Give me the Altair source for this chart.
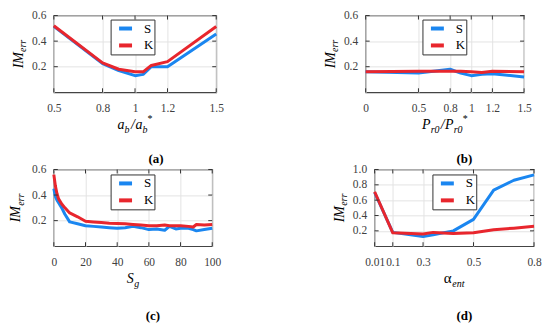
import altair as alt
import pandas as pd

SERIF = "Liberation Serif"
BLUE = "#1a86f0"
RED = "#e8262d"

# ---------------- data ----------------
series_names = ["S", "K"]

a_x = [0.5, 0.8, 0.9, 1.0, 1.05, 1.1, 1.2, 1.5]
a_S = [0.515, 0.225, 0.17, 0.13, 0.14, 0.20, 0.20, 0.455]
a_K = [0.52, 0.23, 0.18, 0.16, 0.16, 0.21, 0.24, 0.515]
a_xticks = [0.5, 0.8, 1, 1.2, 1.5]

b_x = [0, 0.5, 0.8, 0.9, 1.0, 1.1, 1.2, 1.5]
b_S = [0.16, 0.15, 0.18, 0.15, 0.13, 0.14, 0.145, 0.12]
b_K = [0.16, 0.165, 0.165, 0.165, 0.16, 0.155, 0.165, 0.16]
b_xticks = [0, 0.5, 0.8, 1, 1.2, 1.5]

c_x = [0, 1, 2, 3, 5, 7, 10, 15, 20, 25, 30, 35, 40, 45, 50, 55, 60, 65, 70,
       73, 77, 80, 85, 88, 90, 95, 100]
c_S = [0.45, 0.39, 0.36, 0.34, 0.30, 0.25, 0.19, 0.175, 0.16, 0.155, 0.15,
       0.145, 0.14, 0.145, 0.155, 0.145, 0.13, 0.135, 0.125, 0.155, 0.135,
       0.14, 0.14, 0.13, 0.12, 0.13, 0.14]
c_K = [0.56, 0.47, 0.41, 0.37, 0.33, 0.30, 0.26, 0.23, 0.195, 0.19, 0.185,
       0.18, 0.178, 0.175, 0.17, 0.165, 0.16, 0.16, 0.165, 0.16, 0.16, 0.16,
       0.155, 0.15, 0.17, 0.165, 0.17]
c_xticks = [0, 20, 40, 60, 80, 100]

d_x = [0.01, 0.1, 0.25, 0.3, 0.4, 0.5, 0.6, 0.7, 0.8]
d_S = [0.70, 0.18, 0.125, 0.15, 0.20, 0.35, 0.73, 0.86, 0.93]
d_K = [0.71, 0.175, 0.16, 0.18, 0.165, 0.175, 0.215, 0.235, 0.26]
d_xticks = [0.01, 0.1, 0.25, 0.5, 0.8]

y_ticks_small = [0.2, 0.4, 0.6]
y_ticks_d = [0.2, 0.4, 0.6, 0.8, 1.0]

dummy = pd.DataFrame({"k": [0]})


def piece(txt, x, y, size, style="italic", weight="normal", angle=0):
    return alt.Chart(dummy).mark_text(
        text=txt, align="left", baseline="alphabetic", font=SERIF,
        fontSize=size, fontStyle=style, fontWeight=weight, angle=angle,
        color="black",
    ).encode(x=alt.value(x), y=alt.value(y))


def rich(parts, cx, cy, rotate=False):
    total = sum(p[3] for p in parts)
    pos = -total / 2
    out = []
    for txt, size, shift, adv, style in parts:
        if rotate:
            out.append(piece(txt, cx + shift, cy - pos, size, style, angle=270))
        else:
            out.append(piece(txt, cx + pos, cy + shift, size, style))
        pos += adv
    return out


ytitle_parts = [("IM", 14, 0, 16.5, "italic"), ("err", 10, 3.5, 12.5, "italic")]


def panel(xs, S, K, xdom, xticks, ydom, yticks, yfmt, w, h, xtitle_parts,
          ytitle_x, legx, legy, captions):
    df = pd.DataFrame({
        "x": xs + xs,
        "v": S + K,
        "series": [series_names[0]] * len(xs) + [series_names[1]] * len(xs),
    })
    xscale = alt.Scale(domain=xdom, nice=False, zero=False)
    yscale = alt.Scale(domain=ydom, nice=False, zero=False)
    xaxis = alt.Axis(values=xticks, title=None, format="~r", grid=True,
                     ticks=False, domain=False, labelPadding=10,
                     labelFlush=False, labelOverlap=False)
    yaxis = alt.Axis(values=yticks, title=None, format=yfmt, grid=True,
                     ticks=False, domain=False, labelPadding=8,
                     labelFlush=False, labelOverlap=False)
    color = alt.Color(
        "series:N",
        scale=alt.Scale(domain=series_names, range=[BLUE, RED]),
        legend=alt.Legend(
            title=None, orient="none", legendX=legx, legendY=legy,
            direction="vertical", fillColor="white", strokeColor="#333333",
            padding=0.5, symbolType="stroke", symbolSize=169,
            symbolStrokeWidth=4, symbolOffset=6, labelFont=SERIF,
            labelFontSize=13, labelFontWeight="normal", labelColor="black",
            labelOffset=10, rowPadding=-2.5, labelExpr="datum.label + '  '",
        ),
    )
    X = alt.X("x:Q", scale=xscale, axis=xaxis)
    Y = alt.Y("v:Q", scale=yscale, axis=yaxis)
    base = alt.Chart(df).encode(x=X, y=Y, color=color)
    lineS = base.transform_filter(alt.datum.series == "S").mark_line(
        strokeWidth=3, strokeJoin="round")
    lineK = base.transform_filter(alt.datum.series == "K").mark_line(
        strokeWidth=3, strokeJoin="round")

    xt = pd.DataFrame({"x": xticks})
    yt = pd.DataFrame({"v": yticks})
    tick_col = "#333333"
    tk = 4
    xtick_b = alt.Chart(xt).mark_rule(color=tick_col, strokeWidth=1).encode(
        x=X, y=alt.value(h), y2=alt.value(h - tk))
    xtick_t = alt.Chart(xt).mark_rule(color=tick_col, strokeWidth=1).encode(
        x=X, y=alt.value(0), y2=alt.value(tk))
    ytick_l = alt.Chart(yt).mark_rule(color=tick_col, strokeWidth=1).encode(
        y=Y, x=alt.value(0), x2=alt.value(tk))
    ytick_r = alt.Chart(yt).mark_rule(color=tick_col, strokeWidth=1).encode(
        y=Y, x=alt.value(w - tk), x2=alt.value(w))

    layers = [lineS, lineK, xtick_b, xtick_t, ytick_l, ytick_r]
    layers += rich(xtitle_parts, w / 2, h + 37)
    layers += rich(ytitle_parts, ytitle_x, h / 2, rotate=True)
    for txt, cx, cy in captions:
        layers.append(alt.Chart(dummy).mark_text(
            text=txt, align="center", baseline="middle", font=SERIF,
            fontSize=13, fontWeight="bold", color="black",
        ).encode(x=alt.value(cx), y=alt.value(cy)))
    return alt.layer(*layers).properties(width=w, height=h)


pa = panel(a_x, a_S, a_K, [0.5, 1.5], a_xticks, [0, 0.6], y_ticks_small, "~r",
           163, 77,
           [("a", 14, 0, 7, "italic"), ("b", 10, 3.5, 6.5, "italic"),
            ("/", 14, 0, 4.5, "italic"), ("a", 14, 0, 7, "italic"),
            ("b", 10, 3.5, 5, "italic"), ("*", 10, -7, 5, "normal")],
           -31, 57, 4, [])
pb = panel(b_x, b_S, b_K, [0, 1.5], b_xticks, [0, 0.6], y_ticks_small, "~r",
           159, 77,
           [("P", 14, 0, 8.6, "italic"), ("r0", 10, 3.5, 10, "italic"),
            ("/", 14, 0, 4.5, "italic"), ("P", 14, 0, 8.6, "italic"),
            ("r0", 10, 3.5, 9, "italic"), ("*", 10, -7, 5, "normal")],
           -31, 57, 4, [])
pc = panel(c_x, c_S, c_K, [0, 100], c_xticks, [0, 0.6], y_ticks_small, "~r",
           159, 77,
           [("S", 14, 0, 7.5, "italic"), ("g", 10, 3.5, 5, "italic")],
           -33.5, 57, 5, [("(a)", 102.5, -11), ("(c)", 99.5, 147)])
pd_ = panel(d_x, d_S, d_K, [0.01, 0.8], d_xticks, [0, 1.0], y_ticks_d, ".1f",
            160, 77,
            [("\u03b1", 15, 0, 8.5, "normal"), ("ent", 10, 3.5, 12.5, "italic")],
            -31, 58, 5, [("(b)", 90, -11), ("(d)", 90, 147)])

row1 = alt.hconcat(pa, pb, spacing=99).resolve_scale(
    color="independent", x="independent", y="independent")
row2 = alt.hconcat(pc, pd_, spacing=110).resolve_scale(
    color="independent", x="independent", y="independent")
chart = alt.vconcat(row1, row2, spacing=15.5).resolve_scale(
    color="independent", x="independent", y="independent"
).properties(
    padding=0
).configure_view(
    stroke="#444444", strokeWidth=1.2
).configure_axis(
    labelFont=SERIF, labelFontSize=11.5, labelColor="#404040",
    gridColor="#e3e3e3", gridWidth=1,
)

chart.save("out.html", embed_options={"renderer": "svg", "actions": False})
